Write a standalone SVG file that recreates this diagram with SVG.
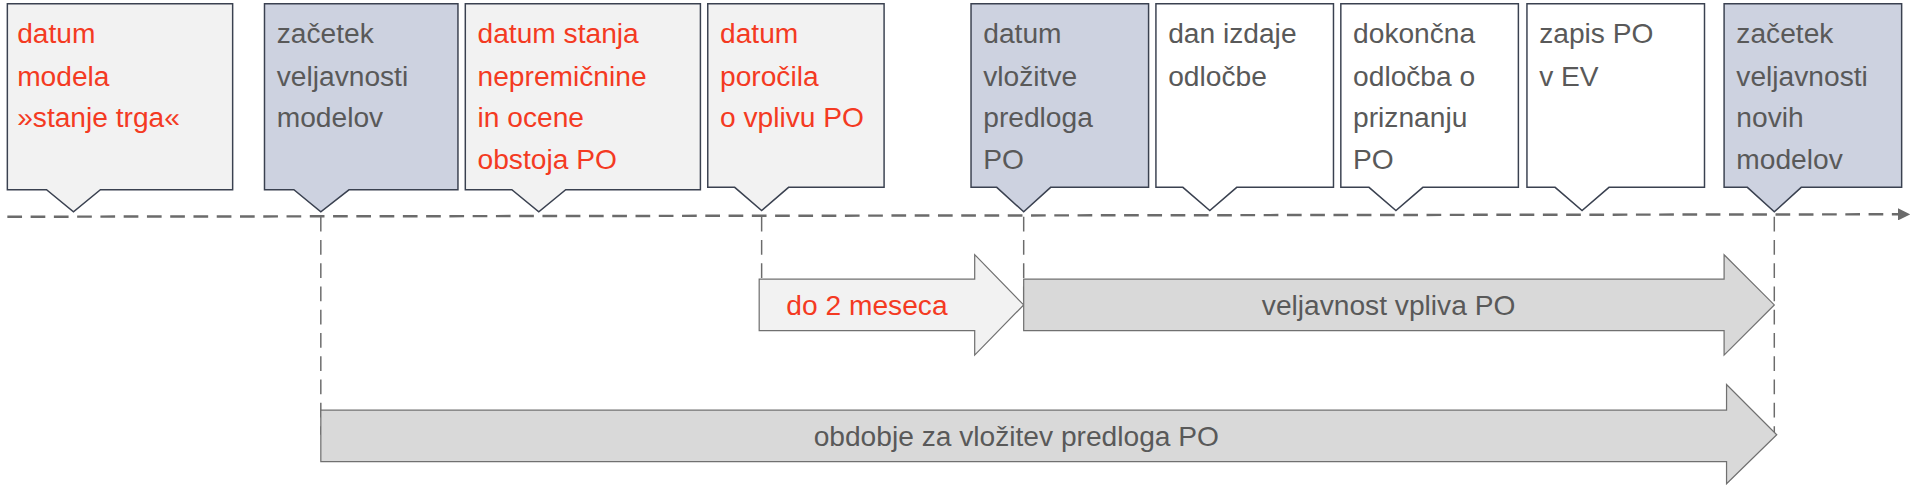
<svg xmlns="http://www.w3.org/2000/svg" width="1920" height="486" viewBox="0 0 1920 486">
<style>
.c{stroke:#3a4150;stroke-width:1.2}
.g{fill:#f2f2f2}.b{fill:#cdd2e0}.w{fill:#fff}
text{font-family:"Liberation Sans",Arial,sans-serif;font-size:23px}
.r{fill:#f43a22}.k{fill:#595959}
.dash{stroke:#6b6b6b;stroke-width:2;stroke-dasharray:12 7;fill:none}
.vd{stroke:#6b6b6b;stroke-width:1.2;stroke-dasharray:12 7;fill:none}
.ar{stroke:#707070;stroke-width:1}
</style>
<defs><marker id="ah" markerWidth="10" markerHeight="10" refX="8" refY="5" orient="auto" markerUnits="userSpaceOnUse"><path d="M0,0 L10,5 L0,10 z" fill="#6b6b6b"/></marker></defs>
<rect width="1920" height="486" fill="#fff"/>
<g transform="scale(1.2245)">
<g id="connectors">
<line class="dash" x1="6" y1="177" x2="1558" y2="175" marker-end="url(#ah)"/>
<line class="vd" x1="262" y1="177" x2="262" y2="355"/>
<line class="vd" x1="622" y1="177" x2="622" y2="249"/>
<line class="vd" x1="836" y1="177" x2="836" y2="249"/>
<line class="vd" x1="1449" y1="177" x2="1449" y2="355"/>
</g>
<g id="n1"><path class="c g" d="M6,3H190V155H82L60,173L38,155H6Z"/><text class="r" x="14"><tspan x="14" y="35">datum</tspan><tspan x="14" y="70">modela</tspan><tspan x="14" y="104">»stanje trga«</tspan></text></g>
<g id="n2"><path class="c b" d="M216,3H374V155H285L262,173L240,155H216Z"/><text class="k"><tspan x="226" y="35">začetek</tspan><tspan x="226" y="70">veljavnosti</tspan><tspan x="226" y="104">modelov</tspan></text></g>
<g id="n3"><path class="c g" d="M380,3H572V155H462L440,173L418,155H380Z"/><text class="r"><tspan x="390" y="35">datum stanja</tspan><tspan x="390" y="70">nepremičnine</tspan><tspan x="390" y="104">in ocene</tspan><tspan x="390" y="138">obstoja PO</tspan></text></g>
<g id="n4"><path class="c g" d="M578,3H722V153H644L622,172L600,153H578Z"/><text class="r"><tspan x="588" y="35">datum</tspan><tspan x="588" y="70">poročila</tspan><tspan x="588" y="104">o vplivu PO</tspan></text></g>
<g id="n5"><path class="c b" d="M793,3H938V153H858L836,173L814,153H793Z"/><text class="k"><tspan x="803" y="35">datum</tspan><tspan x="803" y="70">vložitve</tspan><tspan x="803" y="104">predloga</tspan><tspan x="803" y="138">PO</tspan></text></g>
<g id="n6"><path class="c w" d="M944,3H1089V153H1010L988,172L966,153H944Z"/><text class="k"><tspan x="954" y="35">dan izdaje</tspan><tspan x="954" y="70">odločbe</tspan></text></g>
<g id="n7"><path class="c w" d="M1095,3H1240V153H1162L1140,172L1118,153H1095Z"/><text class="k"><tspan x="1105" y="35">dokončna</tspan><tspan x="1105" y="70">odločba o</tspan><tspan x="1105" y="104">priznanju</tspan><tspan x="1105" y="138">PO</tspan></text></g>
<g id="n8"><path class="c w" d="M1247,3H1392V153H1314L1292,172L1270,153H1247Z"/><text class="k"><tspan x="1257" y="35">zapis PO</tspan><tspan x="1257" y="70">v EV</tspan></text></g>
<g id="n9"><path class="c b" d="M1408,3H1553V153H1471L1449,173L1427,153H1408Z"/><text class="k"><tspan x="1418" y="35">začetek</tspan><tspan x="1418" y="70">veljavnosti</tspan><tspan x="1418" y="104">novih</tspan><tspan x="1418" y="138">modelov</tspan></text></g>
<g id="a1"><path class="ar" fill="#f2f2f2" d="M620,228H796V208L836,249L796,290V270H620Z"/><text class="r" x="708" y="257" text-anchor="middle">do 2 meseca</text></g>
<g id="a2"><path class="ar" fill="#d9d9d9" d="M836,228H1408V208L1449,249L1408,290V270H836Z"/><text class="k" x="1134" y="257" text-anchor="middle">veljavnost vpliva PO</text></g>
<g id="a3"><path class="ar" fill="#d9d9d9" d="M262,335H1410V314L1451,355L1410,395V377H262Z"/><text class="k" x="830" y="364" text-anchor="middle">obdobje za vložitev predloga PO</text></g>
</g>
</svg>
